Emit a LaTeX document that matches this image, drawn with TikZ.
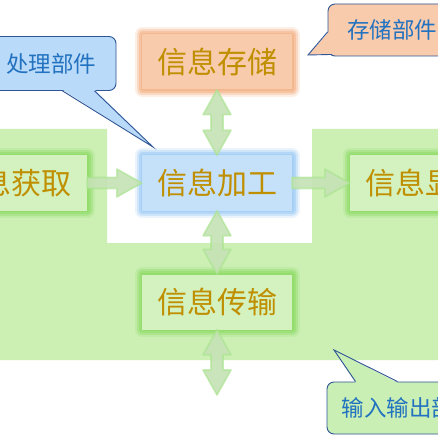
\documentclass[tikz,border=0pt]{standalone}
\usepackage{fontspec}
\newfontfamily\cjk{Noto Sans CJK SC}
\usetikzlibrary{calc}
\definecolor{bggreen}{HTML}{CCEFB4}
\definecolor{boxtext}{HTML}{BF8F00}
\definecolor{orfill}{HTML}{F8CBAD}
\definecolor{orglow}{HTML}{F4B183}
\definecolor{blfill}{HTML}{C5E1FA}
\definecolor{blglow}{HTML}{9DCBF5}
\definecolor{grfill}{HTML}{D4F2C0}
\definecolor{grglow}{HTML}{8EDC66}
\definecolor{arrfill}{HTML}{C5E2B4}
\definecolor{arrglow}{HTML}{A6E48A}
\definecolor{cbline}{HTML}{2F5597}
\definecolor{cbtext}{HTML}{2272C0}
\definecolor{cbblue}{HTML}{B9DAF8}
\definecolor{cbgreen}{HTML}{C9EFB5}
\begin{document}
\begin{tikzpicture}[x=1pt,y=-1pt,
  box/.style={rectangle, minimum width=150pt, minimum height=55pt, inner sep=0pt,
    font=\cjk\fontsize{30}{32}\selectfont, text=boxtext},
  glowbox/.style 2 args={box, fill=#1,
    preaction={draw=#2, line width=15pt, draw opacity=0.2, line join=round, rounded corners=4pt},
    preaction={draw=#2, line width=11pt, draw opacity=0.35, line join=round, rounded corners=2pt},
    preaction={draw=#2, line width=7pt, draw opacity=0.5, line join=round},
    preaction={draw=#2, line width=3pt, draw opacity=0.6, line join=round}},
  barrow/.style={fill=arrfill, fill opacity=0.9, draw=arrglow, line width=1.6pt, draw opacity=0.6, line join=round},
  callbox/.style={rectangle, rounded corners=7pt, draw=cbline, line width=0.9pt, inner sep=0pt,
    font=\cjk\fontsize{22.5}{25}\selectfont, text=cbtext},
  cbedge/.style={draw=cbline, line width=0.9pt, line join=miter}
]
\useasboundingbox (0,0) rectangle (438,438);
\clip (0,0) rectangle (438,438);
\fill[white] (0,0) rectangle (438,438);
% green U-shaped background
\fill[bggreen] (-5,129) -- (107,129) -- (107,243) -- (312,243) -- (312,129)
  -- (445,129) -- (445,360) -- (-5,360) -- cycle;

% boxes
\node[glowbox={orfill}{orglow}] (stor) at (217,62) {信息存储};
\node[glowbox={blfill}{blglow}] (proc) at (217,183) {信息加工};
\node[glowbox={grfill}{grglow}] (acq) at (12,183) {信息获取};
\node[glowbox={grfill}{grglow}] (disp) at (425,183) {信息显示};
\node[glowbox={grfill}{grglow}] (trans) at (217,302) {信息传输};
\coordinate (out) at (217,395);

% block arrows
\path[barrow] (acq.east) ++(0,-5.5) -- ($(proc.west)+(-25,-5.5)$) -- ++(0,-8.5)
  -- (proc.west) -- ++(-25,14) -- ++(0,-8.5) -- ($(acq.east)+(0,5.5)$) -- cycle;
\path[barrow] (proc.east) ++(0,-5.5) -- ($(disp.west)+(-25,-5.5)$) -- ++(0,-8.5)
  -- (disp.west) -- ++(-25,14) -- ++(0,-8.5) -- ($(proc.east)+(0,5.5)$) -- cycle;
\path[barrow] (stor.south) -- ++(14,25) -- ++(-8,0) -- ($(proc.north)+(6,-25)$) -- ++(8,0)
  -- (proc.north) -- ++(-14,-25) -- ++(8,0) -- ($(stor.south)+(-6,25)$) -- ++(-8,0) -- cycle;
\path[barrow] (proc.south) -- ++(14,25) -- ++(-8,0) -- ($(trans.north)+(6,-25)$) -- ++(8,0)
  -- (trans.north) -- ++(-14,-25) -- ++(8,0) -- ($(proc.south)+(-6,25)$) -- ++(-8,0) -- cycle;
\path[barrow] (trans.south) -- ++(14,25) -- ++(-8,0) -- ($(out)+(6,-25)$) -- ++(8,0)
  -- (out) -- ++(-14,-25) -- ++(8,0) -- ($(trans.south)+(-6,25)$) -- ++(-8,0) -- cycle;

% callout: 处理部件
\node[callbox, fill=cbblue, minimum width=130pt, minimum height=54pt] (cp) at (51,63.5) {处理部件};
\coordinate (cpt) at (153,147);
\fill[cbblue] ($(cp.south west)+(77,-1.2)$) -- (cpt) -- ($(cp.south west)+(109,-1.2)$) -- cycle;
\draw[cbedge] ($(cp.south west)+(77,0)$) -- (cpt) -- ($(cp.south west)+(109,0)$);

% callout: 存储部件
\node[callbox, fill=orfill, minimum width=128pt, minimum height=52pt] (cs) at (392,30) {存储部件};
\coordinate (cst) at (308,55);
\fill[orfill] ($(cs.west)+(1.2,2)$) -- (cst) -- ($(cs.south west)+(5,-2.5)$) -- cycle;
\draw[cbedge] ($(cs.west)+(0,2)$) -- (cst) -- ($(cs.south west)+(4.5,-2)$);

% callout: 输入输出部件
\node[callbox, fill=cbgreen, minimum width=164pt, minimum height=52pt] (cio) at (409,408) {输入输出部件};
\coordinate (ciot) at (334,350);
\fill[cbgreen] ($(cio.north west)+(29,1.2)$) -- (ciot) -- ($(cio.north west)+(71,1.2)$) -- cycle;
\draw[cbedge] ($(cio.north west)+(29,0)$) -- (ciot) -- ($(cio.north west)+(71,0)$);
\end{tikzpicture}
\end{document}
